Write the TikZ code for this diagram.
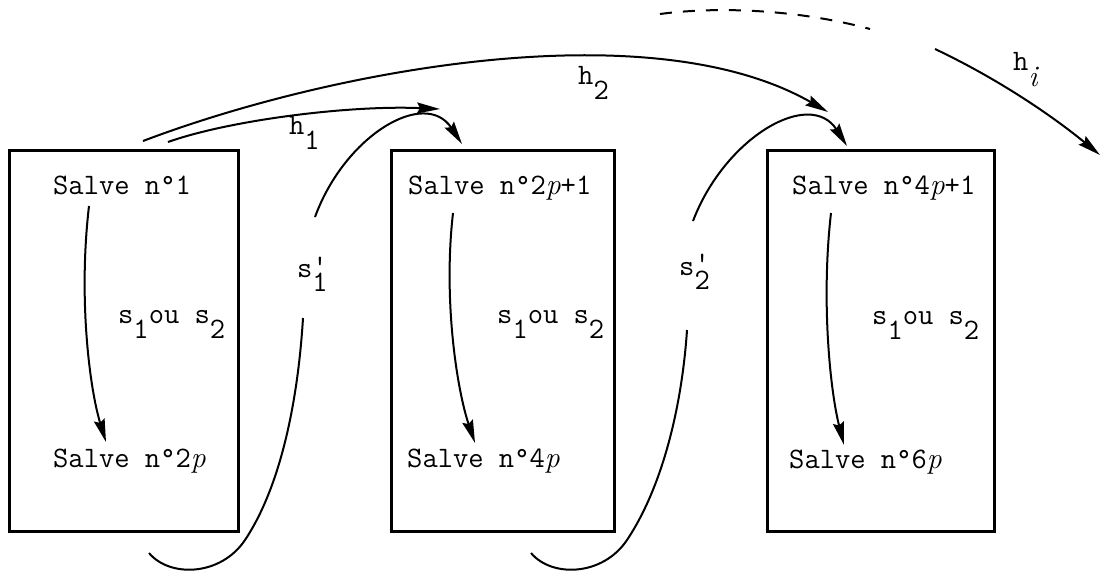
\documentclass[tikz,border=0pt]{standalone}
\usepackage{fontspec}
\usetikzlibrary{arrows.meta}
\newcommand\dn[2][15pt]{\raisebox{-#1}{#2}}
\newcommand\itp{{\rmfamily\itshape p}}
\newcommand\prm{\rlap{\raisebox{2pt}{\textquotesingle}}}
\begin{document}
\begin{tikzpicture}[x=1pt,y=-1pt,
  txt/.style={inner sep=0pt,anchor=base west,font=\fontsize{29.7}{34}\selectfont\ttfamily},
  box/.style={draw,line width=2.6pt,anchor=north west,minimum height=381pt,inner sep=0pt},
  conn/.style={line width=2pt},
  arr/.style={conn,-{Stealth[length=23pt,width=11pt,inset=3pt]}}]
\fill[white] (0,0) rectangle (1102,577);
\useasboundingbox (0,0) rectangle (1102,577);
% boxes
\node[box,minimum width=229pt] (B1) at (8,149) {};
\node[box,minimum width=223pt] (B2) at (390,149) {};
\node[box,minimum width=227pt] (B3) at (766,149) {};
% texts
\node[txt] (T11) at (53,195) {Salve n°1};
\node[txt] (T12) at (53,467) {Salve n°2\itp};
\node[txt] (T21) at (408,195) {Salve n°2\itp+1};
\node[txt] (T22) at (407,467) {Salve n°4\itp};
\node[txt] (T31) at (792,195) {Salve n°4\itp+1};
\node[txt] (T32) at (789,468) {Salve n°6\itp};
\node[txt] (S1) at (118,323) {s\dn{1}ou s\dn{2}};
\node[txt] (S2) at (497,323) {s\dn{1}ou s\dn{2}};
\node[txt] (S3) at (872,324) {s\dn{1}ou s\dn{2}};
\node[txt] (Lh1) at (289,135) {h\dn{1}};
\node[txt] (Lh2) at (578,85) {h\dn{2}};
\node[txt] (Lhi) at (1013,71) {h\dn[16pt]{\rmfamily\itshape i}};
\node[txt] (Lsp1) at (297,277) {s\prm\dn[14pt]{1}};
\node[txt] (Lsp2) at (679,275) {s\prm\dn[14pt]{2}};
% internal arrows
\coordinate (a1s) at (89,206); \coordinate (a1e) at (106,442);
\coordinate (a2s) at (453,213); \coordinate (a2e) at (475,443);
\coordinate (a3s) at (831,213); \coordinate (a3e) at (844,445);
\draw[arr] (a1s) .. controls (78,300) and (90,390) .. (a1e);
\draw[arr] (a2s) .. controls (443,300) and (457,390) .. (a2e);
\draw[arr] (a3s) .. controls (821,300) and (830,390) .. (a3e);
% s'1
\coordinate (p1a) at (149,553); \coordinate (p1m) at (245,540); \coordinate (p1b) at (303,318);
\coordinate (p1c) at (315,217); \coordinate (p1d) at (462,144);
\draw[conn] (p1a) .. controls (170,578) and (221,576) .. (p1m) .. controls (281,486) and (298,400) .. (p1b);
\draw[arr] (p1c) .. controls (345,135) and (425,88) .. (p1d);
% s'2
\coordinate (p2a) at (531,553); \coordinate (p2m) at (627,540); \coordinate (p2b) at (687,330);
\coordinate (p2c) at (693,221); \coordinate (p2d) at (847,146);
\draw[conn] (p2a) .. controls (552,578) and (603,576) .. (p2m) .. controls (663,486) and (682,405) .. (p2b);
\draw[arr] (p2c) .. controls (725,137) and (810,88) .. (p2d);
% h arrows
\coordinate (h1s) at (168,142); \coordinate (h1e) at (440,109);
\coordinate (h2s) at (143,141); \coordinate (h2e) at (828,112);
\coordinate (ds) at (660,14); \coordinate (de) at (870,29);
\coordinate (his) at (935,49); \coordinate (hie) at (1100,155);
\draw[arr] (h1s) .. controls (230,120) and (350,105) .. (h1e);
\draw[arr] (h2s) .. controls (330,70) and (650,10) .. (h2e);
\draw[conn,dash pattern=on 12pt off 11pt] (ds) .. controls (720,6) and (800,10) .. (de);
\draw[arr] (his) .. controls (990,75) and (1045,110) .. (hie);
\end{tikzpicture}
\end{document}
